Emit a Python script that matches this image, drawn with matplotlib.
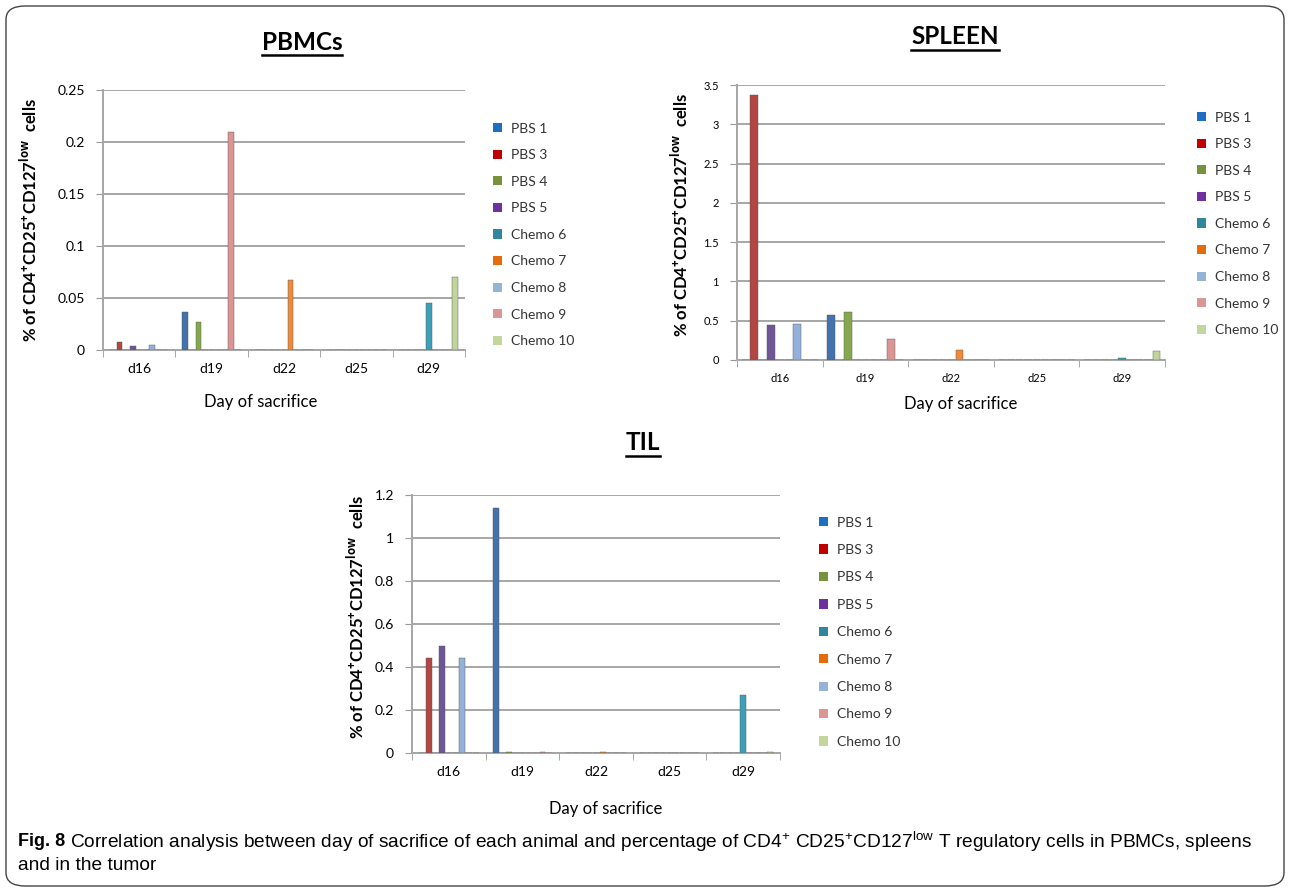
import matplotlib.pyplot as plt
from matplotlib.lines import Line2D
from matplotlib.patches import FancyBboxPatch, Patch

plt.rcParams['font.family'] = ['Lato', 'DejaVu Sans']
plt.rcParams['mathtext.fontset'] = 'custom'
plt.rcParams['mathtext.rm'] = 'Liberation Sans'
plt.rcParams['mathtext.bf'] = 'Open Sans:bold'

days = ['d16', 'd19', 'd22', 'd25', 'd29']
animals = ['PBS 1', 'PBS 3', 'PBS 4', 'PBS 5', 'Chemo 6',
           'Chemo 7', 'Chemo 8', 'Chemo 9', 'Chemo 10']
bar_colors = ['#4372ad', '#b24643', '#86a84c', '#6f5697', '#3d9fb8',
              '#ee8a3a', '#93b1db', '#dc9593', '#bfd59c']
legend_colors = ['#1f6fc0', '#c00000', '#76923c', '#7030a0', '#31859c',
                 '#e46c0a', '#95b3d7', '#d99694', '#c3d69b']

# one row per animal, one value per day (d16, d19, d22, d25, d29)
pbmc_values = [
    [0, 0.037, 0, 0, 0],
    [0.008, 0, 0, 0, 0],
    [0, 0.027, 0, 0, 0],
    [0.004, 0, 0, 0, 0],
    [0, 0, 0, 0, 0.045],
    [0, 0, 0.067, 0, 0],
    [0.005, 0, 0, 0, 0],
    [0, 0.21, 0, 0, 0],
    [0, 0, 0, 0, 0.07],
]
spleen_values = [
    [0, 0.57, 0, 0, 0],
    [3.37, 0, 0, 0, 0],
    [0, 0.61, 0, 0, 0],
    [0.44, 0, 0, 0, 0],
    [0, 0, 0, 0, 0.02],
    [0, 0, 0.13, 0, 0],
    [0.46, 0, 0, 0, 0],
    [0, 0.27, 0, 0, 0],
    [0, 0, 0, 0, 0.11],
]
til_values = [
    [0, 1.14, 0, 0, 0],
    [0.44, 0, 0, 0, 0],
    [0, 0.005, 0, 0, 0],
    [0.5, 0, 0, 0, 0],
    [0, 0, 0, 0, 0.27],
    [0, 0, 0.005, 0, 0],
    [0.44, 0, 0, 0, 0],
    [0, 0.005, 0, 0, 0],
    [0, 0, 0, 0, 0.005],
]

pbmc_ticks = [0, 0.05, 0.1, 0.15, 0.2, 0.25]
pbmc_ticklabels = ['0', '0.05', '0.1', '0.15', '0.2', '0.25']
spleen_ticks = [0, 0.5, 1, 1.5, 2, 2.5, 3, 3.5]
spleen_ticklabels = ['0', '0.5', '1', '1.5', '2', '2.5', '3', '3.5']
til_ticks = [0, 0.2, 0.4, 0.6, 0.8, 1, 1.2]
til_ticklabels = ['0', '0.2', '0.4', '0.6', '0.8', '1', '1.2']

ylabel = r'% of CD4$^{\mathbf{+}}$CD25$^{\mathbf{+}}$CD127$^{\mathbf{low}}$  cells'
caption_1 = (r'Correlation analysis between day of sacrifice of each animal and percentage of '
             r'CD4$^{+}$ CD25$^{+}$CD127$^{\mathrm{low}}$ T regulatory cells in PBMCs, spleens')
caption_2 = 'and in the tumor'

W, H = 1290, 890
fig = plt.figure(figsize=(W / 100, H / 100), dpi=100)


def px_axes(left, top, right, bottom):
    return fig.add_axes([left / W, 1 - bottom / H, (right - left) / W, (bottom - top) / H])


def draw_chart(ax, values, ticks, ticklabels, spacing, width, tick_fs, xlab_pos, ylab_pos):
    for j, row in enumerate(values):
        xs = [i + (j - 4) * spacing for i in range(len(days))]
        ax.bar(xs, row, width=width, color=bar_colors[j], edgecolor='#555555',
               linewidth=0.3, zorder=3)
    ax.set_xlim(-0.5, len(days) - 0.5)
    ax.set_ylim(0, ticks[-1])
    ax.set_yticks(ticks)
    ax.set_yticklabels(ticklabels, fontsize=tick_fs)
    ax.set_xticks(range(len(days)))
    ax.set_xticklabels(days, fontsize=tick_fs)
    ax.set_xticks([i - 0.5 for i in range(len(days) + 1)], minor=True)
    ax.tick_params(axis='x', which='major', length=0, pad=9)
    ax.tick_params(axis='x', which='minor', length=5, color='#999999')
    ax.tick_params(axis='y', length=5, color='#999999', pad=8)
    ax.grid(axis='y', color='#a6a6a6', linewidth=1.4, zorder=0)
    for side in ['top', 'right']:
        ax.spines[side].set_visible(False)
    for side in ['left', 'bottom']:
        ax.spines[side].set_color('#a6a6a6')
        ax.spines[side].set_linewidth(1.4)
    ax.set_xlabel('Day of sacrifice', fontsize=12)
    ax.xaxis.set_label_coords(*xlab_pos)
    ax.set_ylabel(ylabel, fontsize=12, fontweight='bold')
    ax.yaxis.set_label_coords(*ylab_pos)


def draw_legend(x, y, spacing):
    handles = [Patch(facecolor=c, edgecolor='none') for c in legend_colors]
    fig.legend(handles, animals, loc='upper left', bbox_to_anchor=(x / W, 1 - y / H),
               frameon=False, fontsize=10, handlelength=0.65, handleheight=0.65,
               handletextpad=0.7, labelspacing=spacing, borderaxespad=0,
               labelcolor='#333333')


ax1 = px_axes(103, 90, 465, 350)
draw_chart(ax1, pbmc_values, pbmc_ticks, pbmc_ticklabels, 0.091, 0.08, 10,
           (0.436, -0.17), (-0.175, 0.5))
draw_legend(487, 117, 1.05)

ax2 = px_axes(737, 85, 1165, 360)
draw_chart(ax2, spleen_values, spleen_ticks, spleen_ticklabels, 0.1, 0.09, 8,
           (0.523, -0.13), (-0.108, 0.527))
draw_legend(1191, 106, 1.05)

ax3 = px_axes(412, 495, 780, 753)
draw_chart(ax3, til_values, til_ticks, til_ticklabels, 0.091, 0.08, 10,
           (0.527, -0.185), (-0.122, 0.527))
draw_legend(813, 511, 1.11)

# underlined panel titles
titles = [('PBMCs', 302, 42), ('SPLEEN', 955, 37), ('TIL', 643, 443)]
fig.canvas.draw()
renderer = fig.canvas.get_renderer()
for name, tx, ty in titles:
    t = fig.text(tx / W, 1 - ty / H, name, fontsize=17.5, fontweight='bold',
                 ha='center', va='center')
    bb = t.get_window_extent(renderer)
    fig.add_artist(Line2D([bb.x0 / W, bb.x1 / W], [(bb.y0 - 1) / H, (bb.y0 - 1) / H],
                          color='black', linewidth=1.8))

# caption, shrunk to the width of the original line
fig.text(18 / W, 1 - 842 / H, 'Fig. 8', fontsize=13, fontweight='bold',
         family='Liberation Sans', va='center')
cap = fig.text(70 / W, 1 - 842 / H, caption_1, fontsize=13,
               family='Liberation Sans', va='center')
cap_w = cap.get_window_extent(renderer).width
cap_fs = 13 * 1178 / cap_w
cap.set_fontsize(cap_fs)
fig.text(18 / W, 1 - 866 / H, caption_2, fontsize=cap_fs,
         family='Liberation Sans', va='center')

# rounded frame around the figure
fig.add_artist(FancyBboxPatch((6 / W, 4 / H), 1278 / W, 880 / H,
                              boxstyle='round,pad=0,rounding_size=0.015',
                              transform=fig.transFigure, fill=False,
                              edgecolor='#444444', linewidth=1.0))

plt.savefig('out.png', dpi=100)
